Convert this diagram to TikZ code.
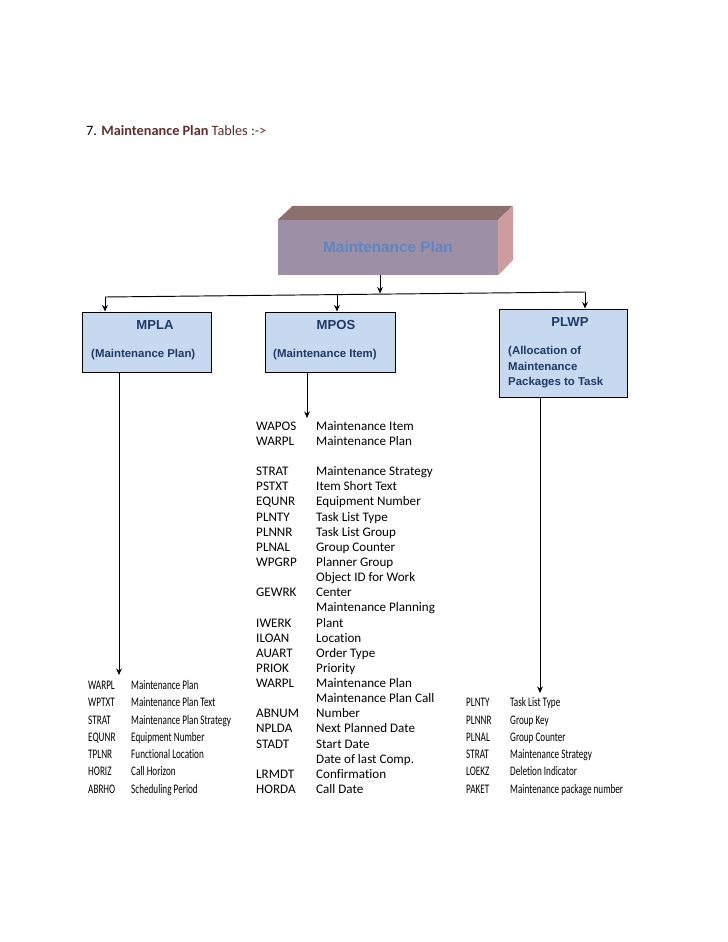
\documentclass[tikz,border=0pt]{standalone}
\usepackage{fontspec}
\setmainfont{Carlito}[Ligatures={NoCommon,NoContextual}]
\newfontfamily\arialf{Liberation Sans}
\newfontfamily\condf[FakeStretch=0.70,Ligatures={NoCommon,NoContextual}]{Carlito}
\usetikzlibrary{arrows.meta}
\definecolor{titlered}{HTML}{632C2B}
\definecolor{mpfront}{HTML}{9D90A6}
\definecolor{mptop}{HTML}{8C706E}
\definecolor{mpright}{HTML}{CC9C9E}
\definecolor{mptext}{HTML}{5B87C6}
\definecolor{boxfill}{HTML}{C6D9F1}
\definecolor{boxtext}{HTML}{1F3A64}
\begin{document}
\begin{tikzpicture}[x=0.8407pt,y=-0.8407pt,
  tbl/.style={draw=black,line width=0.8pt,fill=boxfill,rectangle,inner sep=0pt},
  boxtitle/.style={font=\arialf\bfseries\fontsize{11}{13}\selectfont,text=boxtext,inner sep=0pt,anchor=base},
  boxsub/.style={font=\arialf\bfseries\fontsize{9.6}{12}\selectfont,text=boxtext,inner sep=0pt,anchor=base west},
  conn/.style={line width=0.8pt,-{Stealth[length=5.5pt,width=4.8pt]}},
  plainline/.style={line width=0.8pt},
  rowtxt/.style={font=\fontsize{11}{13}\selectfont,inner sep=0pt,anchor=base west},
  condtxt/.style={font=\condf\fontsize{11}{13}\selectfont,inner sep=0pt,anchor=base west}]
\useasboundingbox[fill=white] (0,0) rectangle (728,942);

% title
\node[font=\fontsize{12}{14}\selectfont,inner sep=0pt,anchor=base west] (title) at (86,135)
  {7. \textcolor{titlered}{\textbf{Maintenance Plan} Tables :->}};

% 3D box
\node[rectangle,fill=mpfront,minimum width={220*0.8407pt},minimum height={55*0.8407pt},inner sep=0pt] (mp) at (388,247.5) {};
\fill[mptop] (mp.north west) -- ++(15,-14) -- ++(220,0) -- (mp.north east) -- cycle;
\fill[mpright] (mp.north east) -- ++(15,-14) -- ++(0,54) -- (mp.south east) -- cycle;
\node[font=\arialf\bfseries\fontsize{12.9}{15}\selectfont,text=mptext,inner sep=0pt] (mptxt) at (388,247) {Maintenance Plan};

% table boxes
\node[tbl,minimum width={129*0.8407pt},minimum height={60*0.8407pt}] (mpla) at (146.5,342) {};
\node[tbl,minimum width={130*0.8407pt},minimum height={60*0.8407pt}] (mpos) at (330,342) {};
\node[tbl,minimum width={128*0.8407pt},minimum height={88*0.8407pt}] (plwp) at (563,353) {};

\node[boxtitle] (mplaT) at (155,329) {MPLA};
\node[boxsub] (mplaS) at (91,357) {(Maintenance Plan)};
\node[boxtitle] (mposT) at (336,329) {MPOS};
\node[boxsub] (mposS) at (273,357) {(Maintenance Item)};
\node[boxtitle] (plwpT) at (570,326) {PLWP};
\node[boxsub] (plwpS1) at (508,354) {(Allocation of};
\node[boxsub] (plwpS2) at (508,370) {Maintenance};
\node[boxsub] (plwpS3) at (508,385) {Packages to Task};

% distribution connectors
\coordinate (j0) at (380,293.5);
\coordinate (jl) at (105,297);
\coordinate (jm) at (337,294.5);
\coordinate (jr) at (585,292);
\draw[conn] (mp.south -| j0) -- (j0);
\draw[plainline] (jl) -- (jr);
\draw[conn] (jl) -- (jl |- mpla.north);
\draw[conn] (jm) -- (jm |- mpos.north);
\draw[conn] (jr) -- (jr |- plwp.north);

% list connectors
\coordinate (mplaE) at (119,675);
\coordinate (mposE) at (307,418);
\coordinate (plwpE) at (540,693);
\draw[conn] (mpla.south -| mplaE) -- (mplaE);
\draw[conn] (mpos.south -| mposE) -- (mposE);
\draw[conn] (plwp.south -| plwpE) -- (plwpE);

% MPOS list
\foreach \c/\d/\y [count=\i] in {
  WAPOS/Maintenance Item/426, WARPL/Maintenance Plan/441,
  STRAT/Maintenance Strategy/471, PSTXT/Item Short Text/486,
  EQUNR/Equipment Number/501, PLNTY/Task List Type/517,
  PLNNR/Task List Group/532, PLNAL/Group Counter/547,
  WPGRP/Planner Group/562, /Object ID for Work/577,
  GEWRK/Center/592, /Maintenance Planning/607,
  IWERK/Plant/623, ILOAN/Location/638, AUART/Order Type/653,
  PRIOK/Priority/668, WARPL/Maintenance Plan/683,
  /Maintenance Plan Call/698, ABNUM/Number/713,
  NPLDA/Next Planned Date/728, STADT/Start Date/744,
  /Date of last Comp./759, LRMDT/Confirmation/774, HORDA/Call Date/789} {
  \node[rowtxt] (posc\i) at (256,\y+4) {\c};
  \node[rowtxt] (posd\i) at (316,\y+4) {\d};
}

% MPLA list
\foreach \c/\d/\y [count=\i] in {
  WARPL/Maintenance Plan/685, WPTXT/Maintenance Plan Text/702,
  STRAT/Maintenance Plan Strategy/720, EQUNR/Equipment Number/737,
  TPLNR/Functional Location/754, HORIZ/Call Horizon/771,
  ABRHO/Scheduling Period/789} {
  \node[condtxt] (plac\i) at (88,\y+4) {\c};
  \node[condtxt] (plad\i) at (131,\y+4) {\d};
}

% PLWP list
\foreach \c/\d/\y [count=\i] in {
  PLNTY/Task List Type/702, PLNNR/Group Key/720,
  PLNAL/Group Counter/737, STRAT/Maintenance Strategy/754,
  LOEKZ/Deletion Indicator/771, PAKET/Maintenance package number/789} {
  \node[condtxt] (plwc\i) at (466,\y+4) {\c};
  \node[condtxt] (plwd\i) at (510,\y+4) {\d};
}
\end{tikzpicture}
\end{document}
